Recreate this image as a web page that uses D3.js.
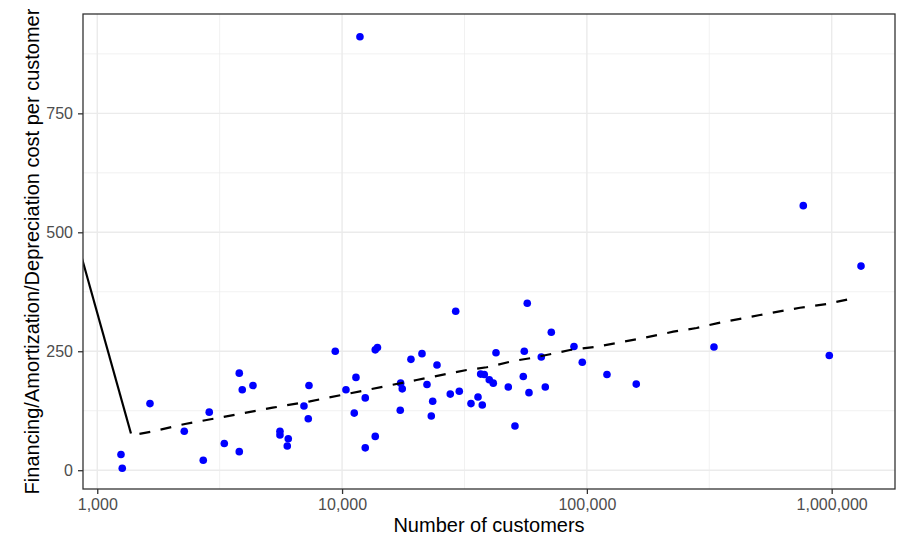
<html>
<head>
<script src="https://d3js.org/d3.v7.min.js" charset="utf-8"></script>
<style>
body { margin: 0; background: #fff; font-family: "Liberation Sans", Arial, sans-serif; }
svg { display: block; }
</style>
</head>
<body>
<div id="canvas"></div>
<script>
// utilities: number of customers vs cost per customer
var customers = [1250, 1265, 1642, 2267, 2710, 2867, 3303, 3803, 3803, 3911,
	4325, 5576, 5576, 6029, 5973, 6988, 7277, 7326, 9380, 10373,
	11397, 11215, 12437, 12437, 13664, 13664, 13950, 17285, 17350, 17612,
	19116, 21206, 22230, 23453, 23146, 24424, 27670, 29115, 30118, 33622,
	35916, 37389, 36830, 38100, 39935, 41464, 42532, 47750, 50849, 54986,
	55504, 58011, 57084, 65128, 67628, 71563, 88585, 95769, 120811, 159115,
	330500, 765600, 977700, 1317600, 11834];
var costs = [33, 4, 140, 82, 21, 122, 56, 39, 204, 169,
	178, 82, 74, 66, 51, 135, 108, 178, 250, 169,
	195, 120, 152, 47, 71, 253, 258, 126, 183, 171,
	233, 245, 180, 145, 114, 221, 160, 334, 166, 140,
	154, 137, 202, 201, 190, 183, 247, 175, 93, 197,
	250, 163, 351, 238, 175, 290, 260, 227, 201, 181,
	259, 556, 241, 429, 911];

// fitted line: solid part, then dashed part
var fitSolidX = [860, 1373];
var fitSolidY = [451, 77];
var fitDashX = [1487, 1673, 2282, 2798, 5205, 7393, 10442, 15694, 20170, 32280,
	38970, 50050, 60400, 85300, 109650, 159700, 225400, 280800, 339000, 509400,
	742200, 954100, 1199400];
var fitDashY = [76.5, 81.3, 97.1, 105.5, 131.4, 144.8, 160.2, 178.4, 189.6, 210.6,
	216.3, 229.5, 236.4, 252.6, 259.6, 275.1, 291.1, 298.9, 308.7, 326.2,
	341.5, 349.3, 360.4];

var xTicks = [1000, 10000, 100000, 1000000];
var xMinor = [3162.3, 31623, 316228];
var yTicks = [0, 250, 500, 750];
var yMinor = [125, 375, 625, 875];

var W = 897, H = 540;
var m = {left: 83, right: 2, top: 14, bottom: 51};

var svg = d3.select("#canvas").append("svg").attr("width", W).attr("height", H);

var x = d3.scaleLog().domain([874.5, 1814000]).range([m.left, W - m.right]);
var y = d3.scaleLinear().domain([-39.5, 958.8]).range([H - m.bottom, m.top]);

svg.append("clipPath").attr("id", "clip")
	.append("rect")
	.attr("x", m.left).attr("y", m.top)
	.attr("width", W - m.right - m.left).attr("height", H - m.bottom - m.top);

// grid
var grid = svg.append("g");
grid.selectAll(".ymin").data(yMinor).enter().append("line")
	.attr("x1", m.left).attr("x2", W - m.right)
	.attr("y1", function(d){ return y(d); }).attr("y2", function(d){ return y(d); })
	.attr("stroke", "#EBEBEB").attr("stroke-width", 0.7);
grid.selectAll(".xmin").data(xMinor).enter().append("line")
	.attr("y1", m.top).attr("y2", H - m.bottom)
	.attr("x1", function(d){ return x(d); }).attr("x2", function(d){ return x(d); })
	.attr("stroke", "#EBEBEB").attr("stroke-width", 0.7);
grid.selectAll(".ymaj").data(yTicks).enter().append("line")
	.attr("x1", m.left).attr("x2", W - m.right)
	.attr("y1", function(d){ return y(d); }).attr("y2", function(d){ return y(d); })
	.attr("stroke", "#EBEBEB").attr("stroke-width", 1.4);
grid.selectAll(".xmaj").data(xTicks).enter().append("line")
	.attr("y1", m.top).attr("y2", H - m.bottom)
	.attr("x1", function(d){ return x(d); }).attr("x2", function(d){ return x(d); })
	.attr("stroke", "#EBEBEB").attr("stroke-width", 1.4);

// points
svg.append("g").attr("clip-path", "url(#clip)")
	.selectAll("circle").data(customers).enter().append("circle")
	.attr("cx", function(d){ return x(d); })
	.attr("cy", function(d, i){ return y(costs[i]); })
	.attr("r", 3.8)
	.attr("fill", "#0000FF");

// fitted lines
var line = d3.line()
	.x(function(d){ return x(d[0]); })
	.y(function(d){ return y(d[1]); });
var lines = svg.append("g").attr("clip-path", "url(#clip)");
lines.append("path")
	.attr("d", line(d3.zip(fitSolidX, fitSolidY)))
	.attr("fill", "none").attr("stroke", "#000").attr("stroke-width", 2.2);
lines.append("path")
	.attr("d", line(d3.zip(fitDashX, fitDashY)))
	.attr("fill", "none").attr("stroke", "#000").attr("stroke-width", 2.2)
	.attr("stroke-dasharray", "11,10.5");

// panel border
svg.append("rect")
	.attr("x", m.left).attr("y", m.top)
	.attr("width", W - m.right - m.left).attr("height", H - m.bottom - m.top)
	.attr("fill", "none").attr("stroke", "#333333").attr("stroke-width", 1.3);

// axes
var xAxis = d3.axisBottom(x).tickValues(xTicks).tickFormat(d3.format(",")).tickSize(5).tickPadding(5);
var yAxis = d3.axisLeft(y).tickValues(yTicks).tickSize(5).tickPadding(5);

var gx = svg.append("g").attr("transform", "translate(0," + (H - m.bottom) + ")").call(xAxis);
var gy = svg.append("g").attr("transform", "translate(" + m.left + ",0)").call(yAxis);
[gx, gy].forEach(function(g){
	g.select(".domain").remove();
	g.selectAll(".tick line").attr("stroke", "#333333").attr("stroke-width", 1.3);
	g.selectAll(".tick text").attr("fill", "#4D4D4D")
		.style("font-size", "16px").style("font-family", "'Liberation Sans', Arial, sans-serif");
});

svg.append("text")
	.attr("x", (m.left + W - m.right) / 2).attr("y", 531.5)
	.attr("text-anchor", "middle")
	.style("font-size", "20px").attr("fill", "#000")
	.text("Number of customers");

svg.append("text")
	.attr("transform", "translate(38.5," + ((m.top + H - m.bottom) / 2) + ") rotate(-90)")
	.attr("text-anchor", "middle")
	.style("font-size", "20px").attr("fill", "#000")
	.text("Financing/Amortization/Depreciation cost per customer");
</script>
</body>
</html>
